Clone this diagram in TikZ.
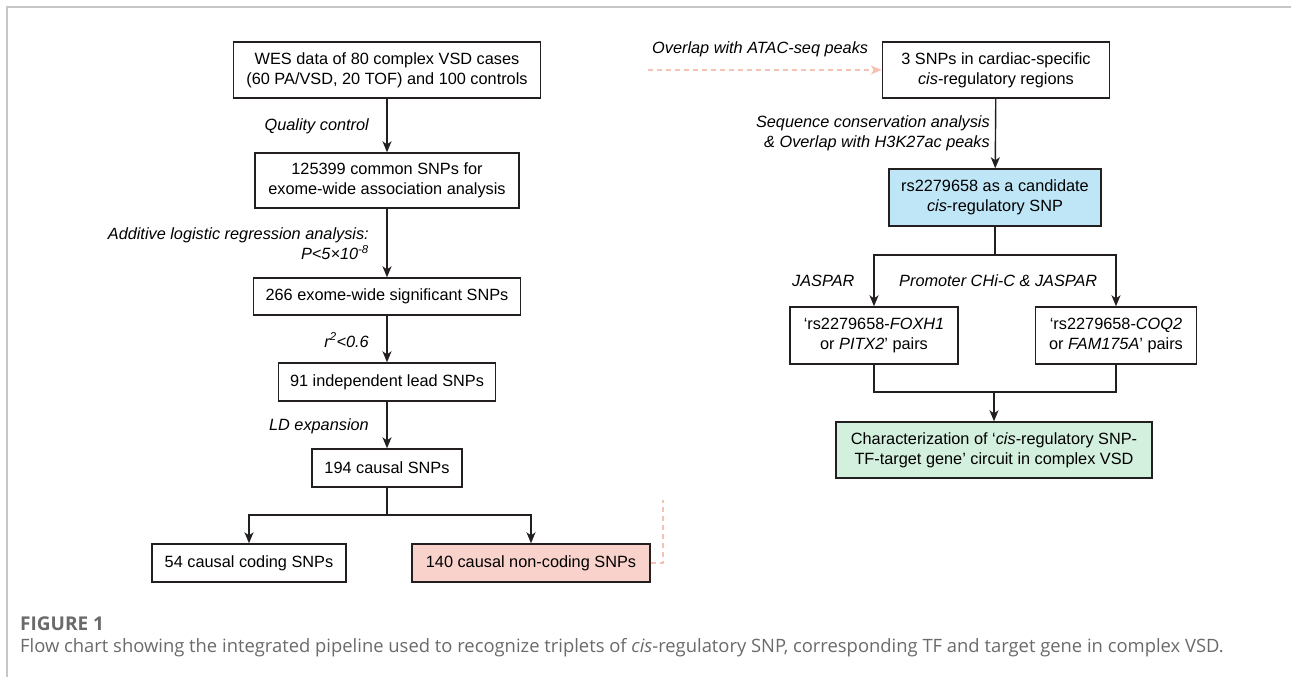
\documentclass[tikz,border=0pt]{standalone}
\usepackage{fontspec}
\usetikzlibrary{arrows.meta}
\setmainfont{Liberation Sans}
\newfontfamily\capfont{Open Sans}
\definecolor{inkline}{HTML}{231F20}
\definecolor{pinkfill}{HTML}{F9D3CB}
\definecolor{pinkdash}{HTML}{F5C2B4}
\definecolor{bluefill}{HTML}{BFE6F7}
\definecolor{greenfill}{HTML}{D3EFDD}
\definecolor{capgray}{HTML}{6A6A6A}
\tikzset{
  box/.style={draw=inkline, line width=1.4pt, align=center, inner sep=0pt},
  lbl/.style={font=\fontsize{16.3}{20}\selectfont\itshape, inner sep=0pt},
  flow/.style={draw=inkline, line width=1.4pt},
  linkdash/.style={draw=pinkdash, line width=1.3pt, dash pattern=on 5pt off 4pt}
}
\begin{document}
\begin{tikzpicture}[x=1pt, y=-1pt, >={Stealth[length=11pt, width=9pt, inset=3pt]}, font=\fontsize{16.3}{20}\selectfont]
        \useasboundingbox (0,0) rectangle (1291,677);
        % Frame
        \draw[gray!45, line width=1.5pt] (7,677) -- (7,7) -- (1291,7);

        % Left column
        \node[box, minimum width=307, minimum height=56] (wes) at (387,70)
            {WES data of 80 complex VSD cases\\(60 PA/VSD, 20 TOF) and 100 controls};
        \node[box, minimum width=264, minimum height=55] (common) at (387,180.5)
            {125399 common SNPs for\\exome-wide association analysis};
        \node[box, minimum width=267, minimum height=37] (signif) at (387,296.5)
            {266 exome-wide significant SNPs};
        \node[box, minimum width=217, minimum height=38] (lead) at (387,382)
            {91 independent lead SNPs};
        \node[box, minimum width=150, minimum height=38] (causal) at (387,468)
            {194 causal SNPs};
        \node[box, minimum width=194, minimum height=38] (coding) at (249,563)
            {54 causal coding SNPs};
        \node[box, fill=pinkfill, minimum width=238, minimum height=38] (noncoding) at (531,563)
            {140 causal non-coding SNPs};

        \node[lbl, anchor=east] (qc) at (369,126) {Quality control};
        \node[lbl, anchor=east, align=right] (logit) at (369,244)
            {Additive logistic regression analysis:\\P<5×10\textsuperscript{-8}};
        \node[lbl, anchor=east] (rsq) at (369,340) {r\textsuperscript{2}<0.6};
        \node[lbl, anchor=east] (ldexp) at (369,426) {LD expansion};

        \draw[flow, ->] (wes) -- (common);
        \draw[flow, ->] (common) -- (signif);
        \draw[flow, ->] (signif) -- (lead);
        \draw[flow, ->] (lead) -- (causal);
        \coordinate (splitL) at (387,515);
        \draw[flow] (causal) -- (splitL);
        \draw[flow, ->] (splitL) -| (coding);
        \draw[flow, ->] (splitL) -| (noncoding);

        % Link to ATAC-seq step (dashed)
        \coordinate (turnP) at (663,563);
        \coordinate (endP) at (663,500);
        \draw[linkdash] (noncoding) -- (turnP) -- (endP);

        % Right column
        \node[box, minimum width=227, minimum height=56] (atac) at (996,70)
            {3 SNPs in cardiac-specific\\\textit{cis}-regulatory regions};
        \node[box, fill=bluefill, minimum width=212, minimum height=57] (cand) at (995,197.5)
            {rs2279658 as a candidate\\\textit{cis}-regulatory SNP};
        \node[box, minimum width=168, minimum height=57] (foxh) at (874,335.5)
            {‘rs2279658-\textit{FOXH1}\\or \textit{PITX2}’ pairs};
        \node[box, minimum width=161, minimum height=57] (coq) at (1116,335.5)
            {‘rs2279658-\textit{COQ2}\\or \textit{FAM175A}’ pairs};
        \node[box, fill=greenfill, minimum width=316, minimum height=56] (circuit) at (994,450)
            {Characterization of ‘\textit{cis}-regulatory SNP-\\TF-target gene’ circuit in complex VSD};

        \coordinate (startP) at (648,70);
        \draw[linkdash, ->] (startP) -- (atac);
        \node[lbl, anchor=west] (atacl) at (652,49) {Overlap with ATAC-seq peaks};
        \node[lbl, anchor=east, align=right] (consl) at (990,133)
            {Sequence conservation analysis\\\& Overlap with H3K27ac peaks};
        \node[lbl, anchor=west] (jasl) at (792,281) {JASPAR};
        \node[lbl, anchor=west] (chic) at (899,281) {Promoter CHi-C \& JASPAR};

        \draw[flow, ->] (atac) -- (cand);
        \coordinate (splitR) at (995,255);
        \draw[flow] (cand) -- (splitR);
        \draw[flow, ->] (splitR) -| (foxh);
        \draw[flow, ->] (splitR) -| (coq);
        \coordinate (joinR) at (994,392);
        \draw[flow] (foxh) |- (joinR);
        \draw[flow] (coq) |- (joinR);
        \draw[flow, ->] (joinR) -- (circuit);

        % Caption
        \node[anchor=west, inner sep=0pt, text=capgray, font=\capfont\fontsize{19}{22}\selectfont\bfseries] (figno) at (20,624) {FIGURE 1};
        \node[anchor=west, inner sep=0pt, text=capgray, font=\capfont\fontsize{18.4}{22}\selectfont] (caption) at (20,648)
            {Flow chart showing the integrated pipeline used to recognize triplets of \textit{cis}-regulatory SNP, corresponding TF and target gene in complex VSD.};
\end{tikzpicture}
\end{document}
